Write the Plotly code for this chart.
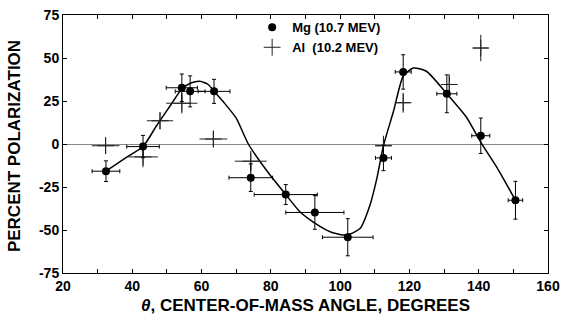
import plotly.graph_objects as go

# Mg (10.7 MeV) data
mg_x = [32.4, 43.1, 54.3, 56.7, 63.6, 74.2, 84.3, 92.7, 102.2, 112.5, 118.2, 130.8, 140.6, 150.6]
mg_y = [-15.8, -1.5, 32.7, 30.6, 30.6, -19.6, -29.4, -39.8, -54.2, -8.1, 41.9, 29.2, 4.8, -32.7]
mg_xerr = [4.0, 4.7, 4.5, 4.3, 4.6, 6.3, 9.1, 8.4, 7.3, 2.3, 2.3, 2.9, 2.6, 2.1]
mg_yerr = [6.0, 6.5, 8.0, 9.0, 7.0, 8.0, 5.8, 9.8, 10.8, 7.4, 10.0, 11.0, 10.3, 11.0]

# Al (10.2 MeV) data
al_x = [32.3, 43.1, 48.0, 54.3, 63.4, 74.2, 112.5, 118.2, 131.5, 140.6]
al_y = [-1.0, -7.5, 13.5, 23.7, 2.9, -10.0, -1.0, 24.0, 34.6, 55.8]
al_xerr = [4.0, 4.3, 3.8, 4.5, 4.0, 4.6, 2.4, 2.0, 2.2, 2.2]
al_yerr = [4.8, 6.0, 5.0, 6.0, 4.8, 6.0, 5.8, 5.8, 5.8, 7.7]

# Hand-drawn curve through the Mg points
curve_x = [32.4, 38.4, 43.1, 47.0, 50.9, 54.3, 57.1, 59.5, 61.9, 63.6, 66.5, 70.0, 73.5, 79.0, 84.3,
           88.4, 92.7, 97.1, 100.9, 102.9, 105.8, 108.6, 110.6, 112.5, 115.4, 118.2, 121.1, 124.9,
           130.8, 136.5, 140.6, 145.2, 150.6]
curve_y = [-15.8, -7.7, -1.5, 10.6, 22.1, 32.0, 35.6, 36.5, 34.6, 30.6, 24.0, 15.0, 0.0, -16.0, -29.4,
           -39.4, -46.0, -51.0, -52.9, -52.3, -49.0, -35.6, -20.0, -1.0, 19.0, 39.4, 44.2, 42.3,
           29.2, 15.4, 1.0, -13.4, -32.7]

x_ticks = [20, 40, 60, 80, 100, 120, 140, 160]
y_ticks = [-75, -50, -25, 0, 25, 50, 75]

FONT = "Liberation Sans"

fig = go.Figure()

fig.add_trace(go.Scatter(
    x=curve_x, y=curve_y, mode="lines", line=dict(color="black", width=1.5, shape="spline", smoothing=0.6),
    showlegend=False, hoverinfo="skip"))

fig.add_trace(go.Scatter(
    x=al_x, y=al_y, mode="markers", name="Al  (10.2 MEV)",
    marker=dict(symbol="cross-thin-open", size=12, color="#222", line=dict(color="#222", width=1)),
    error_x=dict(type="data", array=al_xerr, color="#222", thickness=1, width=0),
    error_y=dict(type="data", array=al_yerr, color="#222", thickness=1, width=0)))

fig.add_trace(go.Scatter(
    x=mg_x, y=mg_y, mode="markers", name="Mg (10.7 MEV)",
    marker=dict(symbol="circle", size=8, color="black"),
    error_x=dict(type="data", array=mg_xerr, color="black", thickness=1, width=2),
    error_y=dict(type="data", array=mg_yerr, color="black", thickness=1, width=2)))

fig.update_layout(
    width=562, height=321,
    margin=dict(l=63, r=14, t=15, b=48, autoexpand=False),
    paper_bgcolor="white", plot_bgcolor="white",
    font=dict(family=FONT, color="black"),
    legend=dict(x=0.39, y=1.01, xanchor="left", yanchor="top", bgcolor="rgba(0,0,0,0)",
                traceorder="reversed", font=dict(size=13, family=FONT, weight="bold"),
                itemwidth=30, tracegroupgap=0),
    xaxis=dict(range=[20, 160], tickvals=x_ticks, ticktext=[str(v) for v in x_ticks],
               ticks="inside", ticklen=4, tickcolor="black", mirror="ticks", automargin=False,
               showline=True, linecolor="black", linewidth=1, showgrid=False, zeroline=False,
               minor=dict(dtick=10, ticks="inside", ticklen=4, tickcolor="black"),
               tickfont=dict(size=14, family=FONT, weight="bold")),
    yaxis=dict(range=[-75, 75], tickvals=y_ticks, ticktext=[str(v) for v in y_ticks],
               ticks="inside", ticklen=4, tickcolor="black", mirror="ticks", automargin=False,
               showline=True, linecolor="black", linewidth=1, showgrid=False,
               zeroline=True, zerolinecolor="#888", zerolinewidth=1,
               tickfont=dict(size=14, family=FONT, weight="bold")),
    annotations=[
        dict(text="<i>θ</i>, CENTER-OF-MASS ANGLE, DEGREES", xref="paper", yref="paper",
             x=0.5, y=-0.125, xanchor="center", yanchor="middle", showarrow=False,
             font=dict(size=17, family=FONT, weight="bold")),
        dict(text="PERCENT POLARIZATION", xref="paper", yref="paper",
             x=-0.1, y=0.49, xanchor="center", yanchor="middle", showarrow=False, textangle=-90,
             font=dict(size=17, family=FONT, weight="bold")),
    ],
)

fig.write_html("out.html")
